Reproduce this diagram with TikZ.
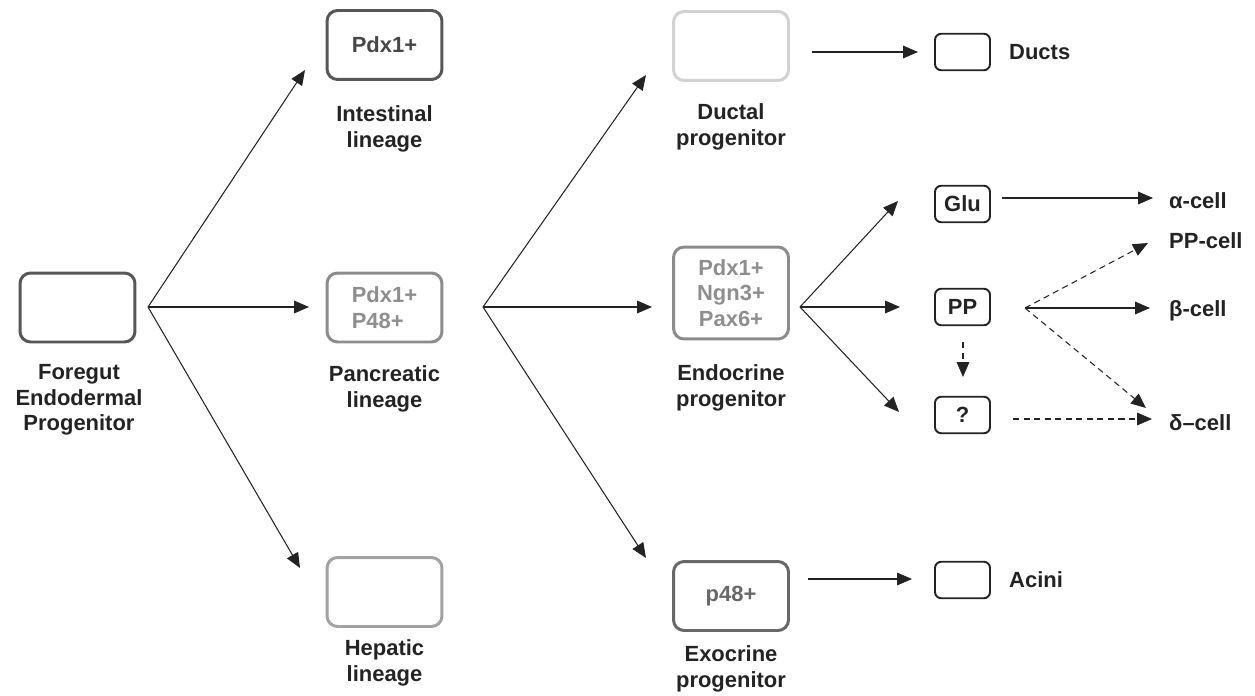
\documentclass[tikz,border=0pt]{standalone}
\usepackage{fontspec}
\setmainfont{Liberation Sans}
\usetikzlibrary{arrows.meta}
\definecolor{labelgray}{HTML}{232323}
\definecolor{boxdark}{HTML}{575757}
\definecolor{boxexo}{HTML}{686868}
\definecolor{boxmid}{HTML}{8C8C8C}
\definecolor{boxlight}{HTML}{A2A2A2}
\definecolor{boxpale}{HTML}{D2D2D2}
\definecolor{textdark}{HTML}{474747}
\definecolor{textmid}{HTML}{8E8E8E}

\begin{document}
\begin{tikzpicture}[x=0.02cm, y=-0.02cm, >={Triangle[length=8.5pt, width=7.2pt]},
        every node/.style={font=\bfseries\fontsize{12.5}{14.5}\selectfont},
        cell/.style={draw, rounded corners=6pt, line width=1.7pt, minimum width=2.3cm, minimum height=1.38cm, inner sep=0pt, align=center},
        tiny/.style={draw=labelgray, rounded corners=3.5pt, line width=1.1pt, minimum width=1.1cm, minimum height=0.73cm, inner sep=0pt, text=labelgray},
        lbl/.style={align=center, text=labelgray},
        link/.style={->, line width=0.6pt, draw=labelgray},
        maybe/.style={->, line width=0.6pt, draw=labelgray, dash pattern=on 3.5pt off 2.5pt}]
        \useasboundingbox (0, 0) rectangle (1255, 696);

        \draw (77.5, 307.5) node[cell, draw=boxdark] (fg) {};
        \draw (79, 400) node[lbl] (fglbl) {Foregut\\Endodermal\\Progenitor};

        \draw (384.5, 45) node[cell, draw=boxdark, text=textdark] (int) {Pdx1+};
        \draw (384.5, 129) node[lbl] (intlbl) {Intestinal\\lineage};
        \draw (384.5, 307.5) node[cell, draw=boxmid, text=textmid, align=left] (pan) {Pdx1+\\P48+};
        \draw (384.5, 389) node[lbl] (panlbl) {Pancreatic\\lineage};
        \draw (384.5, 592) node[cell, draw=boxlight] (hep) {};
        \draw (384.5, 663) node[lbl] (heplbl) {Hepatic\\lineage};

        \draw (731, 46) node[cell, draw=boxpale] (duc) {};
        \draw (731, 127) node[lbl] (duclbl) {Ductal\\progenitor};
        \draw (731, 293) node[cell, draw=boxmid, text=textmid, minimum height=1.84cm] (endo) {Pdx1+\\Ngn3+\\Pax6+};
        \draw (731, 388) node[lbl] (endolbl) {Endocrine\\progenitor};
        \draw (731, 596) node[cell, draw=boxexo, text=boxexo] (exo) {p48+};
        \draw (731, 669) node[lbl] (exolbl) {Exocrine\\progenitor};

        \draw (962.5, 52) node[tiny] (ducts) {};
        \draw (1003, 52) node[lbl, anchor=west] (ductslbl) {Ducts};
        \draw (962.5, 580) node[tiny] (acini) {};
        \draw (1003, 580) node[lbl, anchor=west] (acinilbl) {Acini};
        \draw (962.5, 204) node[tiny] (glu) {Glu};
        \draw (962.5, 307) node[tiny] (pp) {PP};
        \draw (962.5, 415) node[tiny] (unk) {?};

        \draw (1163, 201) node[lbl, anchor=west] (alpha) {α-cell};
        \draw (1163, 241) node[lbl, anchor=west] (ppcell) {PP-cell};
        \draw (1163, 311) node[lbl, anchor=west] (beta) {β-cell};
        \draw (1163, 423) node[lbl, anchor=west] (delta) {δ–cell};

        \coordinate (fgfan) at (148, 307);
        \coordinate (intin) at (305, 70);
        \coordinate (panin) at (309, 307);
        \coordinate (hepin) at (300, 568);
        \coordinate (panfan) at (483, 307);
        \coordinate (ducin) at (646, 75);
        \coordinate (endoin) at (652, 307);
        \coordinate (exoin) at (646, 558);
        \coordinate (endofan) at (800, 307);
        \coordinate (gluin) at (898, 201);
        \coordinate (ppin) at (900, 307);
        \coordinate (unkin) at (899, 412);
        \coordinate (ducout) at (812, 52);
        \coordinate (ductsin) at (918, 52);
        \coordinate (exoout) at (808, 579);
        \coordinate (aciniin) at (912, 579);
        \coordinate (gluout) at (1002, 198);
        \coordinate (alphain) at (1153, 198);
        \coordinate (ppfan) at (1025, 308);
        \coordinate (ppcellin) at (1148, 243);
        \coordinate (betain) at (1150, 308);
        \coordinate (deltain) at (1146, 408);
        \coordinate (ppdown) at (963, 342);
        \coordinate (unktop) at (963, 377);
        \coordinate (unkout) at (1013, 419);
        \coordinate (deltaside) at (1152, 419);

        \draw[link] (fgfan) -- (intin);
        \draw[link] (fgfan) -- (panin);
        \draw[link] (fgfan) -- (hepin);
        \draw[link] (panfan) -- (ducin);
        \draw[link] (panfan) -- (endoin);
        \draw[link] (panfan) -- (exoin);
        \draw[link] (endofan) -- (gluin);
        \draw[link] (endofan) -- (ppin);
        \draw[link] (endofan) -- (unkin);
        \draw[link] (ducout) -- (ductsin);
        \draw[link] (exoout) -- (aciniin);
        \draw[link] (gluout) -- (alphain);
        \draw[link] (ppfan) -- (betain);
        \draw[maybe] (ppfan) -- (ppcellin);
        \draw[maybe] (ppfan) -- (deltain);
        \draw[maybe] (ppdown) -- (unktop);
        \draw[maybe] (unkout) -- (deltaside);
    \end{tikzpicture}
\end{document}
